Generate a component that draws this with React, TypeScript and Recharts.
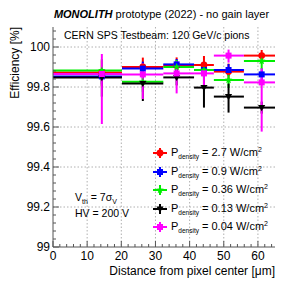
import React from 'react';
import { ScatterChart, Scatter, XAxis, YAxis, CartesianGrid, ErrorBar, Legend } from 'recharts';

// ---- data ----
const binEdges = [0, 20.2, 32.3, 41.3, 47.1, 55.9, 65];
const xMeans = [14.3, 26.3, 36.2, 44.2, 51.4, 61.1];

const powerLabels = ['2.7', '0.9', '0.36', '0.13', '0.04'];
const seriesColors = ['#ff0000', '#0000ff', '#00ee00', '#000000', '#ff00ff'];
const seriesMarkers = ['circle', 'square', 'star', 'triangleDown', 'square'];

const eff27 = [99.873, 99.9, 99.908, 99.91, 99.877, 99.957];
const lo27 = [0.07, 0.05, 0.05, 0.04, 0.05, 0.038];
const hi27 = [0.06, 0.047, 0.04, 0.045, 0.04, 0.028];

const eff09 = [99.853, 99.892, 99.913, 99.885, 99.885, 99.863];
const lo09 = [0.04, 0.04, 0.03, 0.035, 0.03, 0.03];
const hi09 = [0.04, 0.035, 0.027, 0.03, 0.03, 0.03];

const eff036 = [99.883, 99.826, 99.9, 99.885, 99.835, 99.93];
const lo036 = [0.05, 0.05, 0.04, 0.04, 0.04, 0.04];
const hi036 = [0.057, 0.04, 0.035, 0.035, 0.035, 0.03];

const eff013 = [99.847, 99.818, 99.848, 99.797, 99.752, 99.697];
const lo013 = [0.095, 0.088, 0.04, 0.1, 0.08, 0.03];
const hi013 = [0.038, 0.06, 0.04, 0.07, 0.065, 0.03];

const eff004 = [99.865, 99.863, 99.868, 99.868, 99.957, 99.823];
const lo004 = [0.25, 0.123, 0.1, 0.07, 0.035, 0.246];
const hi004 = [0.1, 0.055, 0.06, 0.03, 0.03, 0.07];

const effAll = [eff27, eff09, eff036, eff013, eff004];
const loAll = [lo27, lo09, lo036, lo013, lo004];
const hiAll = [hi27, hi09, hi036, hi013, hi004];

const xMajorTicks = [0, 10, 20, 30, 40, 50, 60];
const yMajorTicks = [99, 99.2, 99.4, 99.6, 99.8, 100];
const xMinorStep = 2;
const yMinorStep = 0.04;

// ---- layout ----
const W = 299;
const H = 288;
const L = 53;
const R = 275;
const T = 27;
const B = 247;
const FONT = '"Liberation Sans", Arial, Helvetica, sans-serif';
const AXIS_COLOR = '#555';

const xTicksAll: number[] = [];
for (let v = 0; v <= 64.001; v += xMinorStep) xTicksAll.push(Math.round(v * 1000) / 1000);
const yTicksAll: number[] = [];
for (let i = 0; 99 + i * yMinorStep <= 100.1; i++) yTicksAll.push(Math.round((99 + i * yMinorStep) * 1000) / 1000);

const isMajorX = (v: number) => Math.abs(v / 10 - Math.round(v / 10)) < 1e-6;
const isMajorY = (v: number) => Math.abs(v * 5 - Math.round(v * 5)) < 1e-6;
const fmtY = (v: number) => String(parseFloat(v.toFixed(1)));

const seriesData = effAll.map((eff, s) =>
  eff.map((y, i) => ({
    x: xMeans[i],
    y,
    ex: [xMeans[i] - binEdges[i], binEdges[i + 1] - xMeans[i]],
    ey: [loAll[s][i], hiAll[s][i]],
  }))
);

// ---- markers ----
function MarkerGlyph({ kind, cx, cy, color, s = 1 }: any) {
  if (kind === 'circle') return <circle cx={cx} cy={cy} r={3.4 * s} fill={color} />;
  if (kind === 'square') return <rect x={cx - 3 * s} y={cy - 3 * s} width={6 * s} height={6 * s} fill={color} />;
  if (kind === 'triangleDown') {
    const a = 3.6 * s;
    return <polygon points={`${cx - a},${cy - a * 0.7} ${cx + a},${cy - a * 0.7} ${cx},${cy + a}`} fill={color} />;
  }
  // star
  const pts: string[] = [];
  for (let k = 0; k < 10; k++) {
    const r = (k % 2 === 0 ? 4 : 1.7) * s;
    const ang = -Math.PI / 2 + (k * Math.PI) / 5;
    pts.push(`${cx + r * Math.cos(ang)},${cy + r * Math.sin(ang)}`);
  }
  return <polygon points={pts.join(' ')} fill={color} />;
}

const makeShape = (kind: string, color: string) => (p: any) => {
  if (p == null || p.cx == null || p.cy == null) return <g />;
  return <MarkerGlyph kind={kind} cx={p.cx} cy={p.cy} color={color} />;
};

// ---- ticks ----
function BottomTick(props: any) {
  const { x, payload } = props;
  const v = payload.value;
  const major = isMajorX(v);
  return (
    <g>
      <line x1={x} x2={x} y1={B} y2={B - (major ? 6 : 3)} stroke={AXIS_COLOR} strokeWidth={1} />
      {major && (
        <text x={x} y={B + 13} textAnchor="middle" fontSize={12} fill="#000" fontFamily={FONT}>
          {String(v)}
        </text>
      )}
    </g>
  );
}
function TopTick(props: any) {
  const { x, payload } = props;
  const major = isMajorX(payload.value);
  return <line x1={x} x2={x} y1={T} y2={T + (major ? 6 : 3)} stroke={AXIS_COLOR} strokeWidth={1} />;
}
function LeftTick(props: any) {
  const { y, payload } = props;
  const v = payload.value;
  const major = isMajorY(v);
  return (
    <g>
      <line x1={L} x2={L + (major ? 6 : 3)} y1={y} y2={y} stroke={AXIS_COLOR} strokeWidth={1} />
      {major && (
        <text x={L - 3} y={y + 4.3} textAnchor="end" fontSize={12} fill="#000" fontFamily={FONT}>
          {fmtY(v)}
        </text>
      )}
    </g>
  );
}
function RightTick(props: any) {
  const { y, payload } = props;
  const major = isMajorY(payload.value);
  return <line x1={R} x2={R - (major ? 6 : 3)} y1={y} y2={y} stroke={AXIS_COLOR} strokeWidth={1} />;
}

// ---- legend ----
function LegendBox() {
  return (
    <div style={{ fontFamily: FONT, color: '#000' }}>
      {powerLabels.map((lab, i) => (
        <div key={lab} style={{ height: 18.5, display: 'flex', alignItems: 'center', whiteSpace: 'nowrap' }}>
          <svg width={16} height={14} style={{ flex: 'none' }}>
            <line x1={1} x2={15} y1={7} y2={7} stroke={seriesColors[i]} strokeWidth={2} />
            <line x1={8} x2={8} y1={2} y2={12} stroke={seriesColors[i]} strokeWidth={2} />
            <MarkerGlyph kind={seriesMarkers[i]} cx={8} cy={7} color={seriesColors[i]} />
          </svg>
          <span style={{ fontSize: 11, marginLeft: 3, lineHeight: '14px' }}>
            P
            <span style={{ fontSize: 6.5, position: 'relative', top: 3 }}>density</span>
            {` = ${lab} W/cm`}
            <span style={{ fontSize: 7, position: 'relative', top: -4 }}>2</span>
          </span>
        </div>
      ))}
    </div>
  );
}

export default function App() {
  return (
    <div style={{ position: 'absolute', left: 0, top: 0, width: W, height: H, background: '#fff', fontFamily: FONT }}>
      <ScatterChart width={W} height={H} margin={{ top: T, right: W - R, bottom: 0, left: 0 }}>
        <CartesianGrid
          stroke="#b0b0b0"
          strokeDasharray="1.5 2"
          horizontalValues={yMajorTicks.slice(1)}
          verticalValues={xMajorTicks.slice(1)}
        />
        <XAxis
          xAxisId={0}
          type="number"
          dataKey="x"
          domain={[0, 65]}
          allowDataOverflow
          ticks={xTicksAll}
          interval={0}
          height={H - B}
          tickLine={false}
          tickSize={0}
          axisLine={{ stroke: AXIS_COLOR }}
          tick={<BottomTick />}
        />
        <XAxis
          xAxisId="top"
          orientation="top"
          type="number"
          dataKey="x"
          domain={[0, 65]}
          allowDataOverflow
          ticks={xTicksAll}
          interval={0}
          height={0}
          tickLine={false}
          tickSize={0}
          axisLine={{ stroke: AXIS_COLOR }}
          tick={<TopTick />}
        />
        <YAxis
          yAxisId={0}
          type="number"
          dataKey="y"
          domain={[99, 100.1]}
          allowDataOverflow
          ticks={yTicksAll}
          interval={0}
          width={L}
          tickLine={false}
          tickSize={0}
          axisLine={{ stroke: AXIS_COLOR }}
          tick={<LeftTick />}
        />
        <YAxis
          yAxisId="right"
          orientation="right"
          type="number"
          dataKey="y"
          domain={[99, 100.1]}
          allowDataOverflow
          ticks={yTicksAll}
          interval={0}
          width={0}
          tickLine={false}
          tickSize={0}
          axisLine={{ stroke: AXIS_COLOR }}
          tick={<RightTick />}
        />
        {seriesData.map((data, s) => (
          <Scatter
            key={powerLabels[s]}
            name={`P_density = ${powerLabels[s]} W/cm2`}
            data={data}
            xAxisId={0}
            yAxisId={0}
            fill={seriesColors[s]}
            isAnimationActive={false}
            shape={makeShape(seriesMarkers[s], seriesColors[s])}
          >
            <ErrorBar dataKey="ex" direction="x" width={0} stroke={seriesColors[s]} strokeWidth={2} isAnimationActive={false} />
            <ErrorBar dataKey="ey" direction="y" width={0} stroke={seriesColors[s]} strokeWidth={2} isAnimationActive={false} />
          </Scatter>
        ))}
        <Legend
          layout="vertical"
          align="center"
          verticalAlign="middle"
          wrapperStyle={{ position: 'absolute', left: 152, top: 144, width: 140, height: 93 }}
          content={() => <LegendBox />}
        />
      </ScatterChart>
      <svg width={W} height={H} style={{ position: 'absolute', left: 0, top: 0, pointerEvents: 'none' }} fontFamily={FONT}>
        <text x={161.5} y={18} textAnchor="middle" fontSize={11} fill="#000">
          <tspan fontWeight="bold" fontStyle="italic">MONOLITH</tspan>
          <tspan> prototype (2022) - no gain layer</tspan>
        </text>
        <text x={64} y={39} fontSize={10.5} fill="#000">CERN SPS Testbeam: 120 GeV/c pions</text>
        <text x={75} y={201} fontSize={10.5} fill="#000">
          V<tspan fontSize={7} dy={2.5}>th</tspan>
          <tspan dy={-2.5}> = 7σ</tspan>
          <tspan fontSize={7} dy={2.5}>V</tspan>
        </text>
        <text x={75} y={217} fontSize={10.5} fill="#000">HV = 200 V</text>
        <text x={R} y={275} textAnchor="end" fontSize={12} fill="#000">Distance from pixel center [μm]</text>
        <text transform={`translate(18.5, ${T}) rotate(-90)`} textAnchor="end" fontSize={12} fill="#000">
          Efficiency [%]
        </text>
      </svg>
    </div>
  );
}
